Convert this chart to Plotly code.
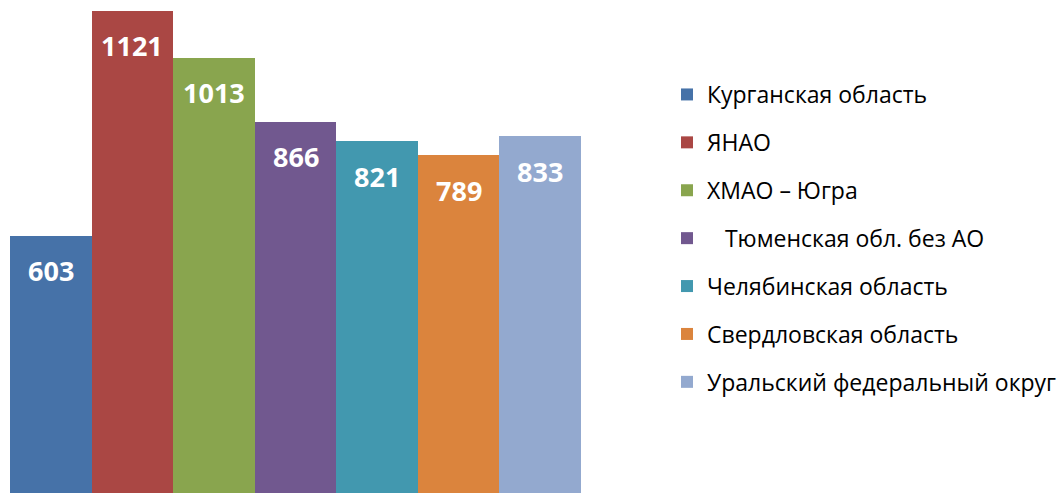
import plotly.graph_objects as go

regions = ["Курганская область", "ЯНАО", "ХМАО – Югра", "\u00a0\u00a0\u00a0Тюменская обл. без АО",
           "Челябинская область", "Свердловская область", "Уральский федеральный округ"]
values = [603, 1121, 1013, 866, 821, 789, 833]
colors = ["#4672A8", "#AA4744", "#89A54E", "#71588F", "#4298AF", "#DB843D", "#93A9CF"]

fig = go.Figure()
for i, (name, val, col) in enumerate(zip(regions, values, colors)):
    fig.add_trace(go.Bar(
        x=[i], y=[val], name=name, marker=dict(color=col, line=dict(width=0)),
        width=1, legendgroup=f"g{i}", hoverinfo="skip",
    ))
    fig.add_annotation(
        x=i, y=val, text=f"<b>{val}</b>", showarrow=False,
        yanchor="middle", yshift=-35,
        font=dict(family="Open Sans", size=27, color="white"),
    )

fig.update_layout(
    width=1058, height=493,
    margin=dict(l=10, r=477, t=0, b=0),
    paper_bgcolor="white", plot_bgcolor="white",
    barmode="overlay", bargap=0,
    showlegend=True,
    legend=dict(
        xref="container", yref="container",
        x=667 / 1058, y=1 - 73 / 493, xanchor="left", yanchor="top",
        font=dict(family="Open Sans", size=23, color="black"),
        tracegroupgap=15, bgcolor="rgba(0,0,0,0)", itemclick=False,
        maxheight=1.0,
    ),
    xaxis=dict(visible=False, range=[-0.5, 6.5], fixedrange=True),
    yaxis=dict(visible=False, range=[11.5, 1146], fixedrange=True),
)

fig.write_html("out.html", config={"displayModeBar": False},
               post_script="document.body.style.margin='0';document.body.style.overflow='hidden';")
